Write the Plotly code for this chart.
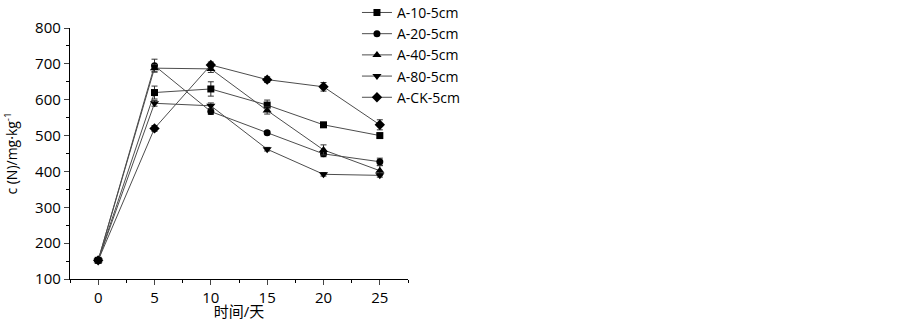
import plotly.graph_objects as go

days = [0, 5, 10, 15, 20, 25]
series_names = ["A-10-5cm", "A-20-5cm", "A-40-5cm", "A-80-5cm", "A-CK-5cm"]
a10 = [152, 620, 630, 585, 530, 500]
a20 = [152, 695, 567, 508, 449, 427]
a40 = [152, 688, 686, 570, 460, 402]
a80 = [152, 590, 583, 462, 392, 389]
ack = [152, 520, 697, 656, 636, 530]
a10_err = [4, 18, 20, 14, 5, 6]
a20_err = [4, 18, 8, 5, 8, 10]
a40_err = [4, 10, 10, 10, 14, 14]
a80_err = [4, 8, 8, 5, 5, 5]
ack_err = [4, 8, 8, 8, 12, 14]
symbols = ["square", "circle", "triangle-up", "triangle-down", "diamond"]
sizes = [7, 7, 8, 8, 8]
x_ticks = [0, 5, 10, 15, 20, 25]
y_ticks = [100, 200, 300, 400, 500, 600, 700, 800]

values = [a10, a20, a40, a80, ack]
errs = [a10_err, a20_err, a40_err, a80_err, ack_err]

fig = go.Figure()
for name, v, e, s, sz in zip(series_names, values, errs, symbols, sizes):
    fig.add_trace(go.Scatter(
        x=days, y=v, name=name, mode="lines+markers",
        line=dict(color="#4d4d4d", width=1),
        marker=dict(symbol=s, color="black", size=sz),
        error_y=dict(type="data", array=e, color="#333333", thickness=1, width=3),
    ))

font_family = "Open Sans, Noto Sans CJK SC, sans-serif"
fig.update_layout(
    width=903, height=321,
    margin=dict(l=70, r=495, t=28, b=42, autoexpand=False),
    paper_bgcolor="white", plot_bgcolor="white",
    font=dict(family=font_family, size=15, color="black"),
    showlegend=True,
    legend=dict(x=0.849, y=1.124, xanchor="left", yanchor="top",
                font=dict(size=14, family=font_family),
                bgcolor="rgba(0,0,0,0)", itemwidth=30, tracegroupgap=0),
    xaxis=dict(range=[-2.5, 27.5], tickvals=x_ticks, ticks="outside", ticklen=5,
               tickwidth=1, showline=True, linecolor="black", linewidth=1.3,
               showgrid=False, zeroline=False, mirror=False,
               minor=dict(dtick=2.5, tick0=0, ticks="outside", ticklen=3, tickcolor="black", showgrid=False),
               title=dict(text="时间/天", font=dict(size=15), standoff=6)),
    yaxis=dict(range=[100, 800], tickvals=y_ticks, ticks="outside", ticklen=5,
               tickwidth=1, showline=True, linecolor="black", linewidth=1.3,
               showgrid=False, zeroline=False, mirror=False,
               minor=dict(dtick=50, tick0=0, ticks="outside", ticklen=3, tickcolor="black", showgrid=False),
               title=dict(text="c (N)/mg·kg<sup>-1</sup>", font=dict(size=14), standoff=14)),
)

fig.write_html("out.html", config={"displayModeBar": False},
               post_script="document.body.style.margin='0';")
